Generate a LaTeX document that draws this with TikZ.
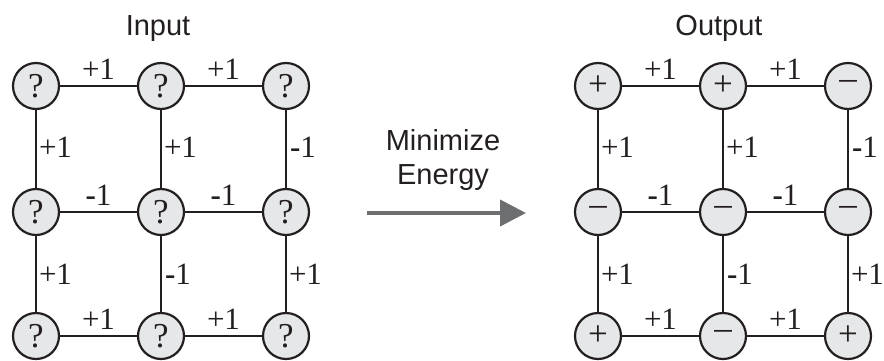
\documentclass[tikz,border=0pt]{standalone}
\usepackage{fontspec}
\setmainfont{Liberation Serif}
\newfontfamily\headfont{Liberation Sans}
\usetikzlibrary{arrows.meta}
\definecolor{ink}{HTML}{231F20}
\definecolor{spinfill}{HTML}{E6E7E8}
\definecolor{arrowgray}{HTML}{6D6E70}
\newcommand{\negone}{\textbf{-}1}
\newcommand{\spindown}{\raisebox{3pt}{–}}
\tikzset{
  spin/.style={circle, draw=ink, line width=2.2pt, fill=spinfill, minimum size=46pt,
    inner sep=0pt, font=\fontsize{35}{35}\selectfont, text=ink},
  bond/.style={draw=ink, line width=2pt},
  wlab/.style={font=\fontsize{31}{31}\selectfont, text=ink, inner sep=0pt},
  head/.style={font=\headfont\fontsize{29}{34}\selectfont, text=ink, align=center, inner sep=0pt}
}
\begin{document}
\begin{tikzpicture}[x=1pt,y=-1pt]
\useasboundingbox (0,0) rectangle (884,360);

% titles
\node[head, anchor=base] (tin) at (158,35) {Input};
\node[head, anchor=base] (tout) at (719,35) {Output};

% input lattice
\foreach \n/\x/\y in {a1/36/86, a2/161/86, a3/286/86,
                       b1/36/212, b2/161/212, b3/286/212,
                       c1/36/336, c2/161/336, c3/286/336}
  \node[spin] (i\n) at (\x,\y) {?};

% output lattice
\node[spin] (oa1) at (598,86) {+};
\node[spin] (oa2) at (723,86) {+};
\node[spin] (oa3) at (848,86) {\spindown};
\node[spin] (ob1) at (598,212) {\spindown};
\node[spin] (ob2) at (723,212) {\spindown};
\node[spin] (ob3) at (848,212) {\spindown};
\node[spin] (oc1) at (598,336) {+};
\node[spin] (oc2) at (723,336) {\spindown};
\node[spin] (oc3) at (848,336) {+};

% couplings (same for both lattices)
\foreach \p in {i,o}{
  \draw[bond] (\p a1) -- node[wlab, above=6pt] {+1} (\p a2);
  \draw[bond] (\p a2) -- node[wlab, above=6pt] {+1} (\p a3);
  \draw[bond] (\p b1) -- node[wlab, above=6pt] {\negone} (\p b2);
  \draw[bond] (\p b2) -- node[wlab, above=6pt] {\negone} (\p b3);
  \draw[bond] (\p c1) -- node[wlab, above=6pt] {+1} (\p c2);
  \draw[bond] (\p c2) -- node[wlab, above=6pt] {+1} (\p c3);
  \draw[bond] (\p a1) -- node[wlab, right=2pt, pos=0.48] {+1} (\p b1);
  \draw[bond] (\p a2) -- node[wlab, right=2pt, pos=0.48] {+1} (\p b2);
  \draw[bond] (\p a3) -- node[wlab, right=3pt, pos=0.48] {\negone} (\p b3);
  \draw[bond] (\p b1) -- node[wlab, right=2pt, pos=0.5] {+1} (\p c1);
  \draw[bond] (\p b2) -- node[wlab, right=3pt, pos=0.5] {\negone} (\p c2);
  \draw[bond] (\p b3) -- node[wlab, right=2pt, pos=0.5] {+1} (\p c3);
}

% transition
\node[head] (lbl) at (443,160) {Minimize\\Energy};
\coordinate (ast) at (367,213);
\coordinate (aen) at (526,213);
\draw[arrowgray, line width=4pt, -{Triangle[length=26pt, width=26pt]}] (ast) -- (aen);
\end{tikzpicture}
\end{document}
